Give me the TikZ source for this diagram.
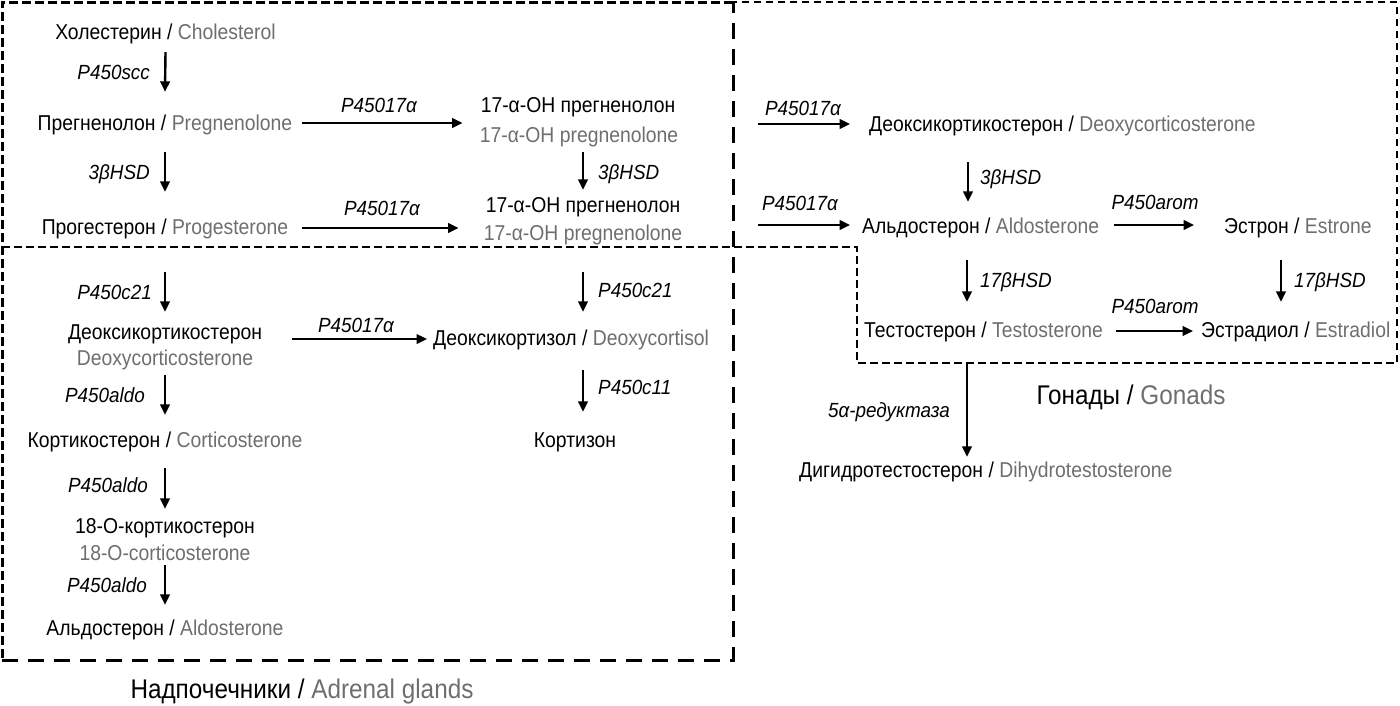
\documentclass[tikz,border=0pt]{standalone}
\usepackage{fontspec}
\setmainfont[FakeStretch=0.9]{Liberation Sans}
\newfontfamily\labfont[FakeStretch=0.92]{Liberation Sans}
\usetikzlibrary{arrows.meta,calc}
\definecolor{eng}{HTML}{6E6E6E}
\newcommand{\en}[1]{{\color{eng}#1}}
\begin{document}
\begin{tikzpicture}[x=1pt,y=-1pt,
  txt/.style={inner sep=0pt, font=\fontsize{21.5}{24}\selectfont, text height=14.5pt, text depth=4pt},
  entxt/.style={txt, text=eng},
  lab/.style={inner sep=0pt, font=\labfont\fontsize{20.5}{23}\selectfont\itshape, text height=14pt, text depth=3.5pt},
  ttl/.style={inner sep=0pt, font=\fontsize{27}{30}\selectfont, text height=19pt, text depth=6pt},
  arr/.style={line width=2.4pt, -{Triangle[length=10.5pt,width=9.5pt]}},
  adrA/.style={line width=3pt, dash pattern=on 9pt off 4pt},
  adrB/.style={line width=3pt, dash pattern=on 16pt off 10pt},
  gon/.style={line width=2.5pt, dash pattern=on 7.5pt off 4.5pt}]
\useasboundingbox (0,0) rectangle (1400,705);

% boxes
\draw[adrA] (733,2) -- (2,2) -- (2,660);
\draw[adrB] (2,660) -- (733,660) -- (733,2);
\draw[gon] (2,247) -- (857,247) -- (857,363) -- (1397,363) -- (1397,2) -- (733,2);

% left column
\node[txt] (chol) at (165.5,34) {Холестерин / \en{Cholesterol}};
\node[txt] (preg) at (165,125) {Прегненолон / \en{Pregnenolone}};
\node[txt] (prog) at (165,229) {Прогестерон / \en{Progesterone}};
\node[txt] (doc) at (165,334) {Деоксикортикостерон};
\node[entxt] (docen) at (165,360) {Deoxycorticosterone};
\node[txt] (cort) at (165,442) {Кортикостерон / \en{Corticosterone}};
\node[txt] (oc) at (165,528) {18-O-кортикостерон};
\node[entxt] (ocen) at (165,555) {18-O-corticosterone};
\node[txt] (ald) at (165,630) {Альдостерон / \en{Aldosterone}};
\node[ttl] (adr) at (302,692) {Надпочечники / \en{Adrenal glands}};

% middle column
\node[txt] (ohp1) at (578,107) {17-α-OH прегненолон};
\node[entxt] (ohp1en) at (579,137) {17-α-OH pregnenolone};
\node[txt] (ohp2) at (583,207) {17-α-OH прегненолон};
\node[entxt] (ohp2en) at (583,235) {17-α-OH pregnenolone};
\node[txt, anchor=west] (dcl) at (433,340) {Деоксикортизол / \en{Deoxycortisol}};
\node[txt] (kort) at (575,442) {Кортизон};

% right part
\node[txt, anchor=west] (rdoc) at (869,126) {Деоксикортикостерон / \en{Deoxycorticosterone}};
\node[txt, anchor=west] (rald) at (862,228) {Альдостерон / \en{Aldosterone}};
\node[txt, anchor=west] (estr) at (1224,228) {Эстрон / \en{Estrone}};
\node[txt, anchor=west] (test) at (864,332) {Тестостерон / \en{Testosterone}};
\node[txt, anchor=west] (estd) at (1201,332) {Эстрадиол / \en{Estradiol}};
\node[txt, anchor=west] (dht) at (799,472) {Дигидротестостерон / \en{Dihydrotestosterone}};
\node[ttl] (gon) at (1131,397.5) {Гонады / \en{Gonads}};

\coordinate (rx) at (968,0);
\coordinate (ex) at (1281,0);
\coordinate (r1s) at (758,124);
\coordinate (r2s) at (758,225);

% left vertical arrows
\draw[arr] ($(chol.south)+(0,8.75)$) -- ($(preg.north)+(0,-23.75)$);
\draw[arr] ($(preg.south)+(0,17.75)$) -- ($(prog.north)+(0,-27.75)$);
\draw[arr] ($(prog.south)+(0,33.75)$) -- ($(doc.north)+(0,-12.75)$);
\draw[arr] ($(docen.south)+(0,5.75)$) -- ($(cort.north)+(0,-17.75)$);
\draw[arr] ($(cort.south)+(0,16.75)$) -- ($(oc.north)+(0,-9.75)$);
\draw[arr] ($(ocen.south)+(0,0.75)$) -- ($(ald.north)+(0,-15.75)$);
\node[lab, anchor=east] (l1) at (150,74) {P450scc};
\node[lab, anchor=east] (l2) at (150,174) {3βHSD};
\node[lab, anchor=east] (l3) at (152,294) {P450c21};
\node[lab, anchor=east] (l4) at (145,397) {P450aldo};
\node[lab, anchor=east] (l5) at (148,487) {P450aldo};
\node[lab, anchor=east] (l6) at (147,587) {P450aldo};

% horizontal arrows left/middle
\draw[arr] ($(preg.east)+(10,-2)$) -- ($(ohp1.west |- preg.east)+(-18,-2)$);
\node[lab] (l7) at (379,107) {P45017α};
\draw[arr] ($(prog.east)+(14,-1)$) -- ($(ohp2en.west |- prog.east)+(-25,-1)$);
\node[lab] (l8) at (382,210) {P45017α};
\draw[arr] ($(doc.east)+(30,5)$) -- ($(dcl.west)+(-6,-1)$);
\node[lab] (l9) at (356,327) {P45017α};

% middle vertical arrows
\draw[arr] ($(ohp1en.south)+(4,5.75)$) -- ($(ohp2.north)+(0,-7.75)$);
\node[lab, anchor=west] (l10) at (598,174) {3βHSD};
\draw[arr] ($(ohp2en.south)+(0,27.75)$) -- ($(dcl.north -| ohp2en.south)+(0,-18.75)$);
\node[lab, anchor=west] (l11) at (598,292) {P450c21};
\draw[arr] ($(dcl.south -| ohp2en.south)+(0,20.75)$) -- ($(kort.north)+(8,-20.75)$);
\node[lab, anchor=west] (l12) at (598,389) {P450c11};

% right arrows
\draw[arr] (r1s) -- ($(rdoc.west)+(-19,-2)$);
\node[lab] (l13) at (803,110) {P45017α};
\draw[arr] (r2s) -- ($(rald.west)+(-12,-3)$);
\node[lab] (l14) at (800,205) {P45017α};
\draw[arr] ($(rdoc.south -| rx)+(0,26.75)$) -- ($(rald.north -| rx)+(0,-16.75)$);
\node[lab, anchor=west] (l15) at (980,179) {3βHSD};
\draw[arr] ($(rald.east)+(15,-3)$) -- ($(estr.west)+(-30,-3)$);
\node[lab] (l16) at (1155,204) {P450arom};
\draw[arr] ($(rald.south -| rx)+(-1,22.75)$) -- ($(test.north -| rx)+(-1,-20.75)$);
\node[lab, anchor=west] (l17) at (980,282) {17βHSD};
\draw[arr] ($(estr.south -| ex)+(0,22.75)$) -- ($(estd.north -| ex)+(0,-20.75)$);
\node[lab, anchor=west] (l18) at (1294,282) {17βHSD};
\draw[arr] ($(test.east)+(13,-1)$) -- ($(estd.west)+(-8,-1)$);
\node[lab] (l19) at (1155,308) {P450arom};
\draw[arr] ($(test.south -| rx)+(-1,20.75)$) -- ($(dht.north -| rx)+(-1,-5.75)$);
\node[lab, anchor=east] (l20) at (950,412) {5α-редуктаза};

\end{tikzpicture}
\end{document}
